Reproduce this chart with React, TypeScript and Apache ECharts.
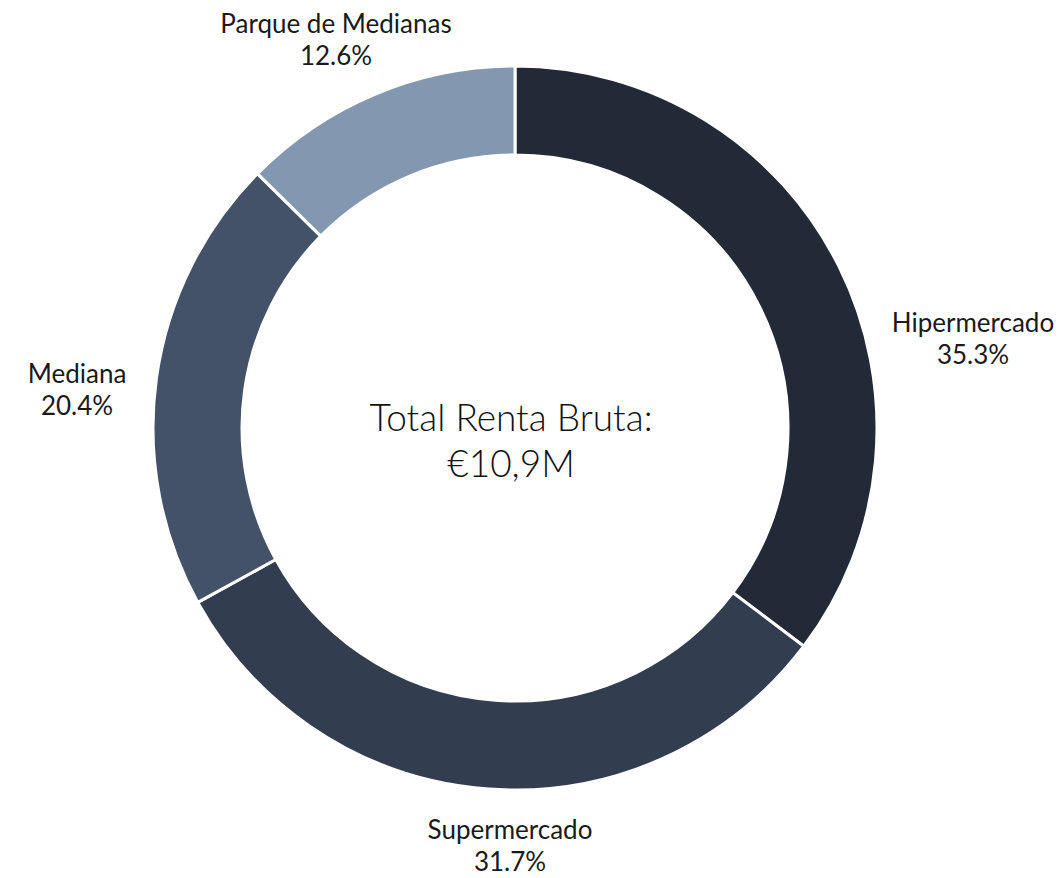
import React, { useEffect, useRef } from "react";
import * as echarts from "echarts";

const categories = ["Hipermercado", "Supermercado", "Mediana", "Parque de Medianas"];
const shares = [35.3, 31.7, 20.4, 12.6];
const colors = ["#232a37", "#333d50", "#435268", "#8497b0"];
const centerLines = ["Total Renta Bruta:", "€10,9M"];
// label anchor (centre of each two-line label block), in pixels
const labelAnchors: [number, number][] = [
  [973, 338],
  [510, 845],
  [77, 389],
  [336, 39],
];

export default function App() {
  const ref = useRef<HTMLDivElement>(null);
  useEffect(() => {
    document.body.style.margin = "0";
    const chart = echarts.init(ref.current!, null, { renderer: "svg" });
    chart.setOption({
      animation: false,
      backgroundColor: "#ffffff",
      series: [
        {
          type: "pie",
          center: [515, 428],
          radius: [273, 362],
          startAngle: 90,
          clockwise: true,
          avoidLabelOverlap: false,
          itemStyle: { borderColor: "#ffffff", borderWidth: 3 },
          label: {
            show: true,
            position: "outside",
            fontFamily: "Lato",
            fontSize: 26,
            color: "#1a1a1a",
            lineHeight: 32,
            align: "center",
            formatter: (p: any) => `${p.name}\n${Number(p.value).toFixed(1)}%`,
          },
          labelLine: { show: false },
          labelLayout: (p: any) => ({
            x: labelAnchors[p.dataIndex][0],
            y: labelAnchors[p.dataIndex][1],
            align: "center",
            verticalAlign: "middle",
          }),
          emphasis: { disabled: true },
          data: categories.map((c, i) => ({
            name: c,
            value: shares[i],
            itemStyle: { color: colors[i] },
          })),
        },
      ],
      graphic: [
        {
          type: "text",
          x: 511,
          y: 439,
          style: {
            text: centerLines.join("\n"),
            fontFamily: "Lato",
            fontWeight: 300,
            fontSize: 37,
            lineHeight: 46,
            fill: "#111111",
            align: "center",
            verticalAlign: "middle",
          },
        },
      ],
    });
    return () => chart.dispose();
  }, []);
  return (
    <div
      ref={ref}
      style={{ position: "absolute", left: 0, top: 0, width: 1061, height: 878 }}
    />
  );
}
